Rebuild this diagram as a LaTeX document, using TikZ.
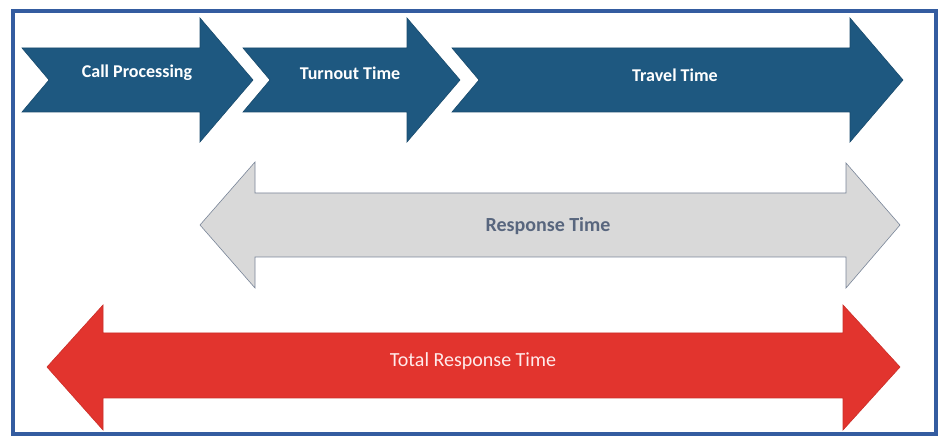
\documentclass[tikz,border=0pt]{standalone}
\usepackage{fontspec}
\setmainfont{Carlito}
\definecolor{frameblue}{RGB}{52,92,160}
\definecolor{stepblue}{RGB}{30,88,128}
\definecolor{respgray}{RGB}{217,217,217}
\definecolor{resptext}{RGB}{88,102,126}
\definecolor{totalred}{RGB}{226,52,46}
\begin{document}
\begin{tikzpicture}[x=1pt,y=-1pt,
  lbl/.style={font=\fontsize{18}{21}\selectfont\bfseries,text=white},
  chev/.style={fill=stepblue,draw=stepblue!85!black,line width=.6pt}]
\useasboundingbox (0,0) rectangle (943,443);
\draw[line width=4pt,draw=frameblue] (13,11) rectangle (936,434);
% the three phases
\foreach \l/\b in {22/200,243/407,452/850}{\draw[chev] (\l,48)--(\b,48)--(\b,18)--(\b+53,80)--(\b,142)--(\b,112)--(\l,112)--(\l+27,80)--cycle;}
\node[lbl] (callproc) at (137,73) {Call Processing};
\node[lbl] (turnout) at (350,73) {Turnout Time};
\node[lbl] (travel) at (675,75) {Travel Time};
% response time
\draw[fill=respgray,draw=resptext!80,line width=.6pt] (200,225)--(255,162)--(255,193)--(846,193)--(846,163)--(900,225)--(846,288)--(846,257)--(255,257)--(255,288)--cycle;
\node[lbl,font=\fontsize{20}{23}\selectfont\bfseries,text=resptext] (resp) at (548,226) {Response Time};
% total response time
\draw[fill=totalred,draw=totalred!90!black,line width=.6pt] (47,367)--(103,305)--(103,333)--(843,333)--(843,305)--(900,367)--(843,430)--(843,398)--(103,398)--(103,430)--cycle;
\node[lbl,font=\fontsize{20}{23}\selectfont,text=red!8] (total) at (473,361) {Total Response Time};
\end{tikzpicture}
\end{document}
